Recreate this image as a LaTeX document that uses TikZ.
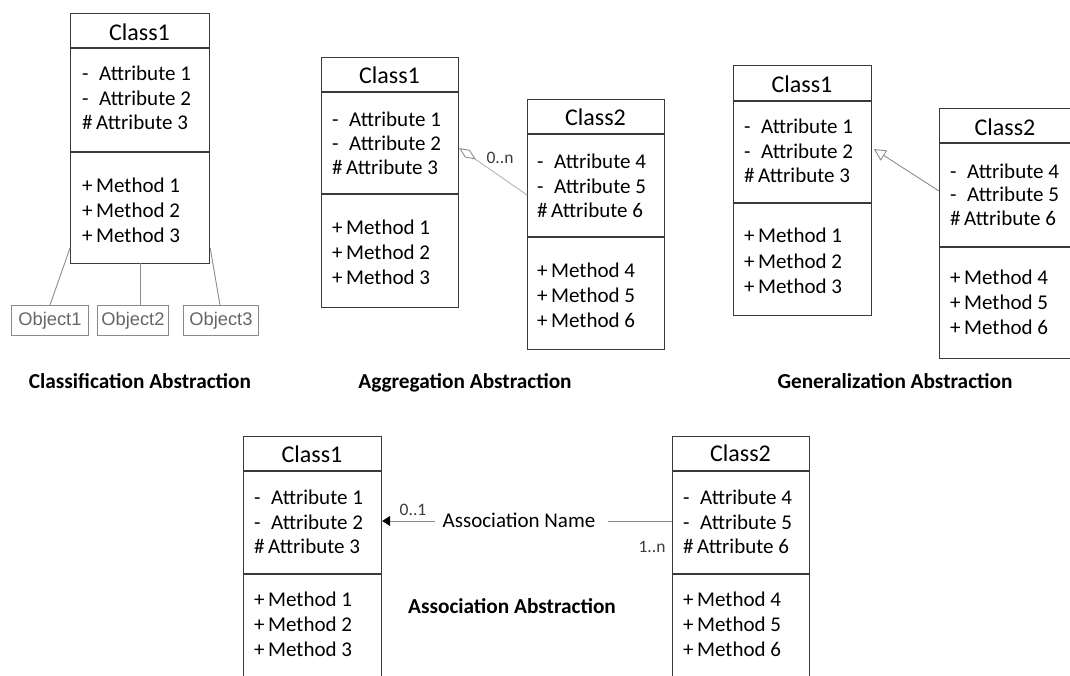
\documentclass[tikz,border=0pt]{standalone}
\usepackage{fontspec}
\setmainfont{Carlito}
\newfontfamily\arialf{Liberation Sans}
\usetikzlibrary{arrows.meta}
\definecolor{boxc}{HTML}{3A3A3A}
\definecolor{objc}{HTML}{8A8A8A}
\definecolor{objt}{HTML}{666666}
\definecolor{linec}{HTML}{8C8C8C}
\definecolor{aggc}{HTML}{B4B4B4}
\tikzset{
  cls/.style={draw=boxc, line width=1.2pt, rectangle, inner sep=0pt, anchor=north west},
  sepline/.style={draw=boxc, line width=1.2pt},
  ttl/.style={inner sep=0pt, font=\fontsize{24}{28}\selectfont, text height=15pt, text depth=0pt},
  txt/.style={inner sep=0pt, anchor=west, font=\fontsize{21}{25}\selectfont, text height=13.5pt, text depth=0pt},
  obj/.style={draw=objc, line width=0.9pt, rectangle, inner sep=0pt, anchor=north west, text=objt, font=\arialf\fontsize{18.3}{20}\selectfont},
  objline/.style={draw=linec, line width=0.9pt},
  captxt/.style={inner sep=0pt, font=\bfseries\fontsize{21.3}{24}\selectfont, text height=13.5pt, text depth=0pt},
  mult/.style={inner sep=0pt, font=\fontsize{17.5}{20}\selectfont, text height=11pt, text depth=0pt, text=boxc},
}
\begin{document}
\begin{tikzpicture}[x=1pt,y=-1pt]
\useasboundingbox (0,0) rectangle (1070,676);

% ---------- Classification ----------
\node[cls, minimum width=139pt, minimum height=250pt] (cl) at (70,13) {};
\draw[sepline] (70,48) -- (209,48);
\draw[sepline] (70,152) -- (209,152);
\node[ttl] (clt) at (139.5,33) {Class1};
\node[txt] (cla1) at (82,74) {-\enspace Attribute 1};
\node[txt] (cla2) at (82,99) {-\enspace Attribute 2};
\node[txt] (cla3) at (82,123) {\#\,Attribute 3};
\node[txt] (clm1) at (82,186) {+\,Method 1};
\node[txt] (clm2) at (82,211) {+\,Method 2};
\node[txt] (clm3) at (82,236) {+\,Method 3};
\node[obj, minimum width=77pt, minimum height=30pt] (o1) at (11,305) {Object1};
\node[obj, minimum width=71pt, minimum height=30pt] (o2) at (97,305) {Object2};
\node[obj, minimum width=75pt, minimum height=30pt] (o3) at (183,305) {Object3};
\draw[objline] (cl.west |- 0,248) -- (50,305);
\draw[objline] (140,263) -- (140,305);
\draw[objline] (cl.east |- 0,248) -- (220,305);
\node[captxt] (capcl) at (140,382) {Classification Abstraction};

% ---------- Aggregation ----------
\node[cls, minimum width=137pt, minimum height=250pt] (ag1) at (321,57) {};
\draw[sepline] (321,92) -- (458,92);
\draw[sepline] (321,194) -- (458,194);
\node[ttl] (ag1t) at (389.5,76) {Class1};
\node[txt] (ag1a1) at (332,120) {-\enspace Attribute 1};
\node[txt] (ag1a2) at (332,144) {-\enspace Attribute 2};
\node[txt] (ag1a3) at (332,168) {\#\,Attribute 3};
\node[txt] (ag1m1) at (332,228) {+\,Method 1};
\node[txt] (ag1m2) at (332,253) {+\,Method 2};
\node[txt] (ag1m3) at (332,278) {+\,Method 3};

\node[cls, minimum width=137pt, minimum height=250pt] (ag2) at (527,99) {};
\draw[sepline] (527,134) -- (664,134);
\draw[sepline] (527,237) -- (664,237);
\node[ttl] (ag2t) at (595.5,118) {Class2};
\node[txt] (ag2a1) at (537,162) {-\enspace Attribute 4};
\node[txt] (ag2a2) at (537,187) {-\enspace Attribute 5};
\node[txt] (ag2a3) at (537,211) {\#\,Attribute 6};
\node[txt] (ag2m1) at (537,271) {+\,Method 4};
\node[txt] (ag2m2) at (537,296) {+\,Method 5};
\node[txt] (ag2m3) at (537,321) {+\,Method 6};
\draw[draw=aggc, line width=0.9pt, {Diamond[open, length=20pt, width=9pt, color=linec, line width=0.9pt]}-]
  (ag1.east |- 0,148) -- (ag2.west |- 0,195);
\node[mult] (agm) at (500,158) {0..n};
\node[captxt] (capag) at (465,382) {Aggregation Abstraction};

% ---------- Generalization ----------
\node[cls, minimum width=138pt, minimum height=250pt] (ge1) at (733,65) {};
\draw[sepline] (733,101) -- (871,101);
\draw[sepline] (733,203) -- (871,203);
\node[ttl] (ge1t) at (802,85) {Class1};
\node[txt] (ge1a1) at (744,127) {-\enspace Attribute 1};
\node[txt] (ge1a2) at (744,152) {-\enspace Attribute 2};
\node[txt] (ge1a3) at (744,176) {\#\,Attribute 3};
\node[txt] (ge1m1) at (744,236) {+\,Method 1};
\node[txt] (ge1m2) at (744,262) {+\,Method 2};
\node[txt] (ge1m3) at (744,287) {+\,Method 3};

\node[cls, minimum width=138pt, minimum height=250pt] (ge2) at (939,108) {};
\draw[sepline] (939,143) -- (1077,143);
\draw[sepline] (939,247) -- (1077,247);
\node[ttl] (ge2t) at (1005,128) {Class2};
\node[txt] (ge2a1) at (950,172) {-\enspace Attribute 4};
\node[txt] (ge2a2) at (950,195) {-\enspace Attribute 5};
\node[txt] (ge2a3) at (950,219) {\#\,Attribute 6};
\node[txt] (ge2m1) at (950,278) {+\,Method 4};
\node[txt] (ge2m2) at (950,303) {+\,Method 5};
\node[txt] (ge2m3) at (950,328) {+\,Method 6};
\draw[draw=linec, line width=0.9pt, {Triangle[open, length=12pt, width=12pt, line width=0.9pt]}-, shorten <=2pt]
  (ge1.east |- 0,148) -- (ge2.west |- 0,191);
\node[captxt] (capge) at (895,382) {Generalization Abstraction};

% ---------- Association ----------
\node[cls, minimum width=138pt, minimum height=260pt] (as1) at (243,436) {};
\draw[sepline] (243,471) -- (381,471);
\draw[sepline] (243,574) -- (381,574);
\node[ttl] (as1t) at (312,455) {Class1};
\node[txt] (as1a1) at (254,498) {-\enspace Attribute 1};
\node[txt] (as1a2) at (254,523) {-\enspace Attribute 2};
\node[txt] (as1a3) at (254,547) {\#\,Attribute 3};
\node[txt] (as1m1) at (254,600) {+\,Method 1};
\node[txt] (as1m2) at (254,625) {+\,Method 2};
\node[txt] (as1m3) at (254,650) {+\,Method 3};

\node[cls, minimum width=137pt, minimum height=260pt] (as2) at (672,436) {};
\draw[sepline] (672,471) -- (809,471);
\draw[sepline] (672,574) -- (809,574);
\node[ttl] (as2t) at (740.5,454) {Class2};
\node[txt] (as2a1) at (683,498) {-\enspace Attribute 4};
\node[txt] (as2a2) at (683,523) {-\enspace Attribute 5};
\node[txt] (as2a3) at (683,547) {\#\,Attribute 6};
\node[txt] (as2m1) at (683,600) {+\,Method 4};
\node[txt] (as2m2) at (683,625) {+\,Method 5};
\node[txt] (as2m3) at (683,650) {+\,Method 6};

\node[txt, anchor=center, inner xsep=0pt] (aname) at (519,521) {Association Name};
\coordinate (anw) at ([xshift=-8pt]aname.west);
\coordinate (ane) at ([xshift=12pt]aname.east);
\draw[draw=linec, line width=0.9pt, -{Triangle[length=8pt, width=10pt, color=black]}]
  (anw) -- (as1.east |- anw);
\draw[draw=linec, line width=0.9pt] (ane) -- (as2.west |- ane);
\node[mult] (asm1) at (413,510) {0..1};
\node[mult] (asm2) at (652,547) {1..n};
\node[captxt] (capas) at (512,607) {Association Abstraction};
\end{tikzpicture}
\end{document}
